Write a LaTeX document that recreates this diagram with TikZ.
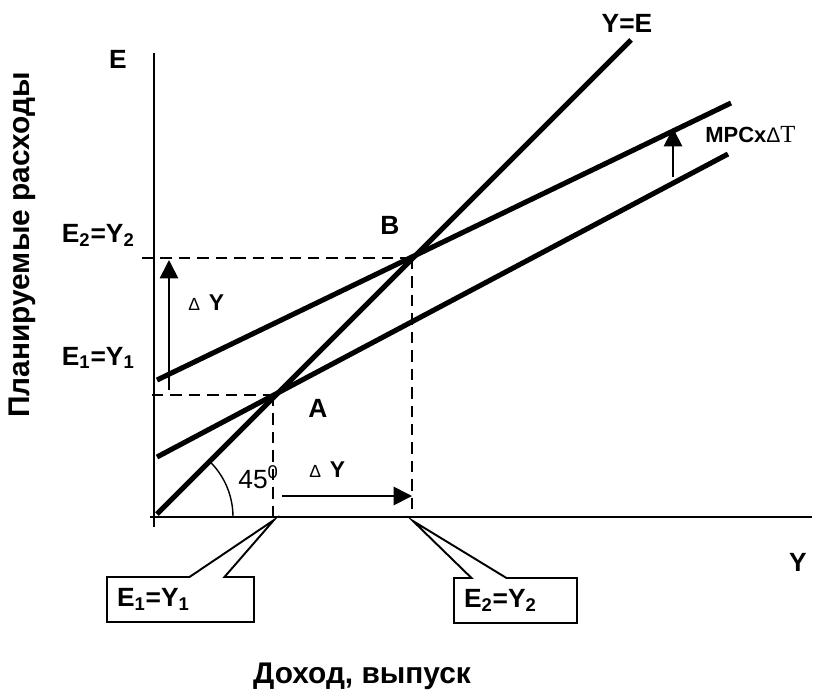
\documentclass[tikz,border=0pt]{standalone}
\usepackage{fontspec}
\setmainfont{Liberation Sans}
\newfontfamily\symfont{Liberation Serif}
\usetikzlibrary{arrows.meta,shapes.callouts}
\newcommand{\eqlab}[1]{E\textsubscript{#1}=Y\textsubscript{#1}}
\newcommand{\dlt}[1]{{\fontsize{#1}{#1}\selectfont\mdseries Δ}}

\begin{document}
\begin{tikzpicture}[x=0.02cm, y=-0.02cm, >={Triangle[length=10.5pt,width=10.5pt]},
  curve/.style={line width=2.9pt},
  axis/.style={line width=1.1pt},
  guide/.style={line width=1pt, dash pattern=on 6.5pt off 4pt},
  shiftarrow/.style={line width=1pt, ->},
  lab/.style={font=\fontsize{15}{15}\selectfont\bfseries, inner sep=0pt},
  small/.style={font=\fontsize{13}{13}\selectfont\bfseries, inner sep=0pt},
  title/.style={font=\fontsize{17}{17}\selectfont\bfseries, inner sep=0pt},
  note/.style={rectangle callout, draw, line width=1.1pt, minimum height=0.9cm,
    inner xsep=0.2cm, align=left, callout pointer width=0.7cm,
    font=\fontsize{15}{15}\selectfont\bfseries}]
  \useasboundingbox (0,0) rectangle (814,691);
  % ---------- axes ----------
  \coordinate (Etop) at (154,53);
  \coordinate (Ebot) at (154,527);
  \coordinate (Yl) at (150,517);
  \coordinate (Yr) at (812,517);
  \coordinate (O) at (155,517);
  \draw[axis] (Ebot) -- (Etop);
  \draw[axis] (Yl) -- (Yr);
  % ---------- the three lines ----------
  \coordinate (A) at (273,395);
  \coordinate (B) at (412,258);
  \draw[curve] (157,514) -- (631,40);
  \draw[curve] (157,380) -- (731,103);
  \draw[curve] (157,457) -- (728,154);
  % dashed guides to the axes
  \draw[guide] (142,258) -- (B);
  \draw[guide] (152,395) -- (A);
  \draw[guide] (A) -- (273,517);
  \draw[guide] (B) -- (412,517);
  % angle mark
  \draw[line width=0.8pt] (O) ++(78,0) arc[start angle=0, end angle=-45, radius=78];
  % ---------- shifts ----------
  \coordinate (dYb) at (169,390);
  \coordinate (dYt) at (169,260);
  \draw[shiftarrow] (dYb) -- (dYt);
  \coordinate (dXl) at (282,496);
  \coordinate (dXr) at (412,496);
  \draw[shiftarrow] (dXl) -- (dXr);
  \coordinate (mpcb) at (673,177);
  \coordinate (mpct) at (673,128);
  \draw[shiftarrow] (mpcb) -- (mpct);
  % ---------- labels ----------
  \node[lab, anchor=base] (Elab) at (118,68) {E};
  \node[lab, anchor=base] (YElab) at (627,32) {Y=E};
  \node[lab, anchor=base] (Ylab) at (798,571) {Y};
  \node[lab, anchor=base east] (E2lab) at (135,242) {\eqlab{2}};
  \node[lab, anchor=base east] (E1lab) at (135,365) {\eqlab{1}};
  \node[lab, anchor=base] (Alab) at (318,417) {A};
  \node[lab, anchor=base] (Blab) at (390,234) {B};
  \node[small, anchor=base west] (dYlab) at (188,310) {\dlt{10}\hspace{5pt}Y};
  \node[small, anchor=base west] (dXlab) at (309,477) {\dlt{10}\hspace{5pt}Y};
  \node[inner sep=0pt, anchor=base west, font=\fontsize{15}{15}\selectfont] (ang) at (238,488) {45\textsuperscript{0}};
  \node[font=\fontsize{12.5}{12.5}\selectfont\bfseries, inner sep=0pt, anchor=base west] (mpc) at (705,142)
    {MPCx\dlt{12}{\symfont\mdseries\fontsize{14}{14}\selectfont T}};
  \node[title, rotate=90] (ylab) at (22,245) {Планируемые расходы};
  \node[title, anchor=base] (xlab) at (362,683) {Доход, выпуск};
  % ---------- callouts ----------
  \node[note, text width=2.54cm, callout absolute pointer={(274,520)}] (c1) at (180.5,599.5) {\eqlab{1}};
  \node[note, text width=2.06cm, callout absolute pointer={(413,521)}] (c2) at (515.5,600.5) {\eqlab{2}};
\end{tikzpicture}
\end{document}
